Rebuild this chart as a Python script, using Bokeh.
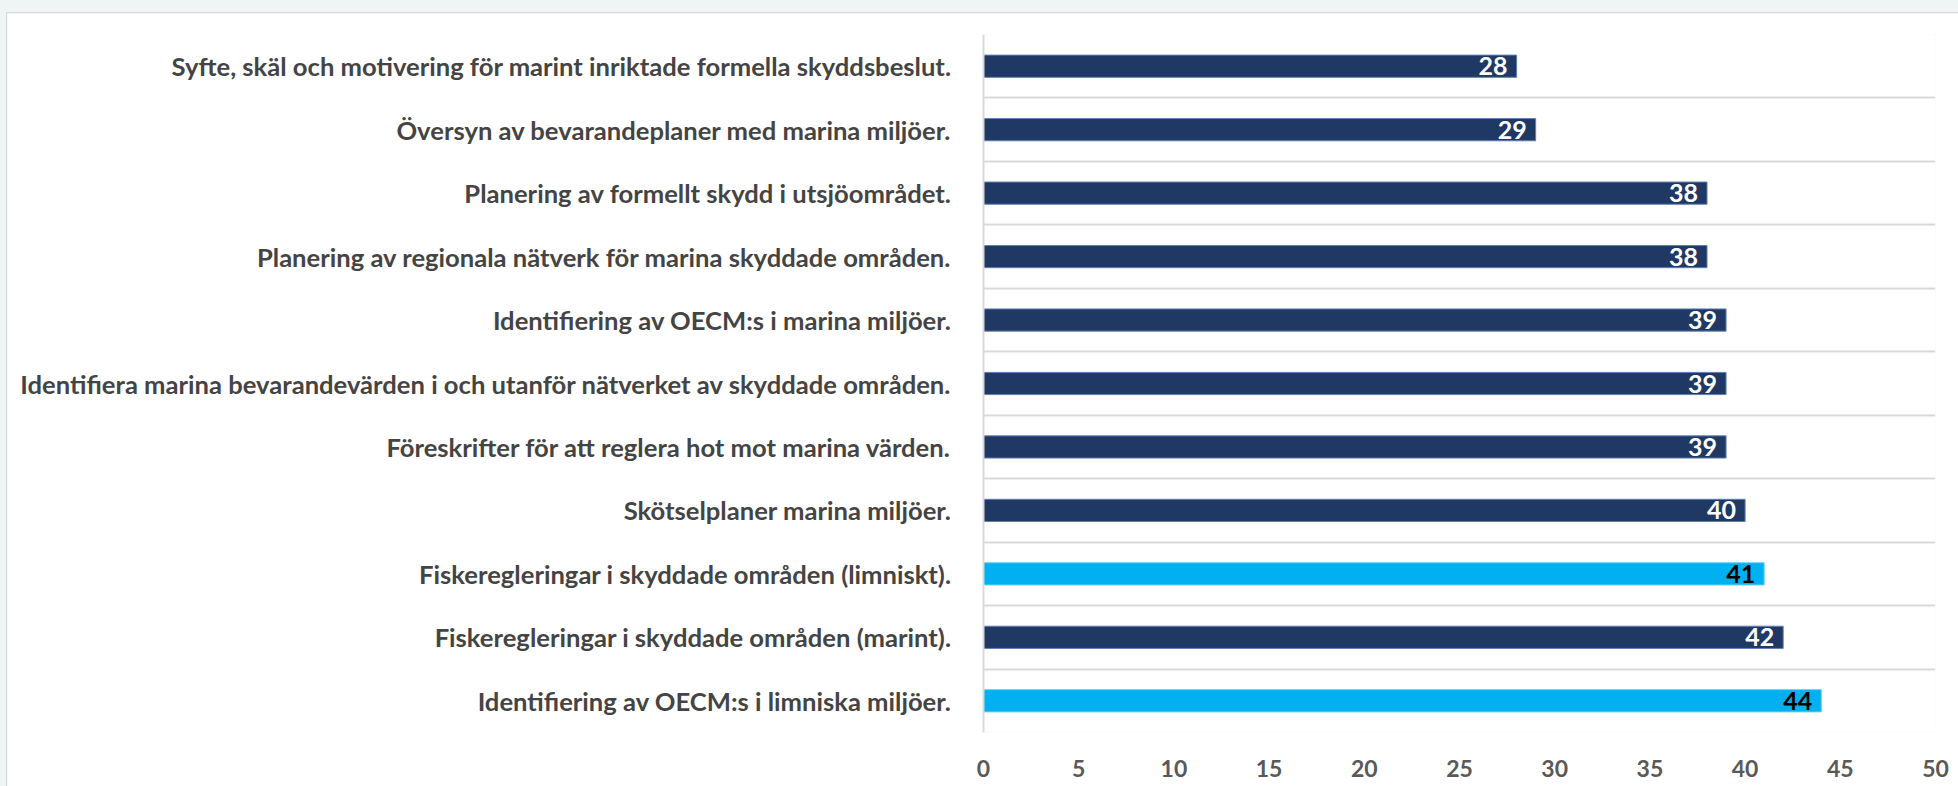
from bokeh.plotting import figure
from bokeh.models import Range1d, FixedTicker, ColumnDataSource, GlobalInlineStyleSheet
from bokeh.core.properties import value
from bokeh.embed import file_html
from bokeh.resources import INLINE

# ---- data (top to bottom as in the chart) ----
categories = [
    "Syfte, skäl och motivering för marint inriktade formella skyddsbeslut.",
    "Översyn av bevarandeplaner med marina miljöer.",
    "Planering av formellt skydd i utsjöområdet.",
    "Planering av regionala nätverk för marina skyddade områden.",
    "Identifiering av OECM:s i marina miljöer.",
    "Identifiera marina bevarandevärden i och utanför nätverket av skyddade områden.",
    "Föreskrifter för att reglera hot mot marina värden.",
    "Skötselplaner marina miljöer.",
    "Fiskeregleringar i skyddade områden (limniskt).",
    "Fiskeregleringar i skyddade områden (marint).",
    "Identifiering av OECM:s i limniska miljöer.",
]
values = [28, 29, 38, 38, 39, 39, 39, 40, 41, 42, 44]
kinds = ["marint", "marint", "marint", "marint", "marint", "marint",
         "marint", "marint", "limniskt", "marint", "limniskt"]
x_ticks = [0, 5, 10, 15, 20, 25, 30, 35, 40, 45, 50]

fill_map = {"marint": "#203864", "limniskt": "#00b0f0"}
edge_map = {"marint": "#5f7fb8", "limniskt": "#5fd0f8"}
text_map = {"marint": "#ffffff", "limniskt": "#000000"}

n = len(categories)
ys = [n - i for i in range(n)]

src = ColumnDataSource(dict(
    y=ys,
    value=values,
    label=[str(v) for v in values],
    fill=[fill_map[k] for k in kinds],
    edge=[edge_map[k] for k in kinds],
    tcolor=[text_map[k] for k in kinds],
))

p = figure(width=1951, height=773, output_backend="svg", toolbar_location=None,
           x_range=Range1d(0, 50), y_range=Range1d(0.5, n + 0.5),
           min_border_left=976, min_border_right=23,
           min_border_top=21, min_border_bottom=54)
p.outline_line_color = None
p.background_fill_color = "#ffffff"
p.border_fill_color = "#ffffff"

# light page background with the white chart card offset like the original
p.stylesheets = [GlobalInlineStyleSheet(css="html, body { background-color: #eff4f4; }")]
p.styles = {"margin-left": "7px", "margin-top": "13px",
            "box-shadow": "0 0 0 1px #d6dcdc"}

p.hbar(y="y", left=0, right="value", height=0.35, fill_color="fill",
       line_color="edge", line_width=1, source=src)

p.text(x="value", y="y", text="label", source=src, text_align="right",
       text_baseline="middle", x_offset=-9, text_color="tcolor",
       text_font=value("Lato"), text_font_style="bold", text_font_size="25px")

# grid lines between categories
p.xgrid.visible = False
p.ygrid.ticker = FixedTicker(ticks=[y + 0.5 for y in range(0, n + 1)])
p.ygrid.grid_line_color = "#d9d9d9"
p.ygrid.grid_line_width = 2

# y axis (categories)
p.yaxis.ticker = FixedTicker(ticks=ys)
p.yaxis.major_label_overrides = {y: c for y, c in zip(ys, categories)}
p.yaxis.axis_line_color = "#d9d9d9"
p.yaxis.axis_line_width = 2
p.yaxis.major_tick_line_color = None
p.yaxis.minor_tick_line_color = None
p.yaxis.major_label_standoff = 26
p.yaxis.major_label_text_font = "Lato"
p.yaxis.major_label_text_font_style = "bold"
p.yaxis.major_label_text_font_size = "25.6px"
p.yaxis.major_label_text_color = "#444444"

# x axis (values)
p.xaxis.ticker = FixedTicker(ticks=x_ticks)
p.xaxis.axis_line_color = None
p.xaxis.major_tick_line_color = None
p.xaxis.minor_tick_line_color = None
p.xaxis.major_label_standoff = 21
p.xaxis.major_label_text_font = "Lato"
p.xaxis.major_label_text_font_style = "bold"
p.xaxis.major_label_text_font_size = "23px"
p.xaxis.major_label_text_color = "#595959"

open("out.html", "w").write(file_html(p, INLINE))
